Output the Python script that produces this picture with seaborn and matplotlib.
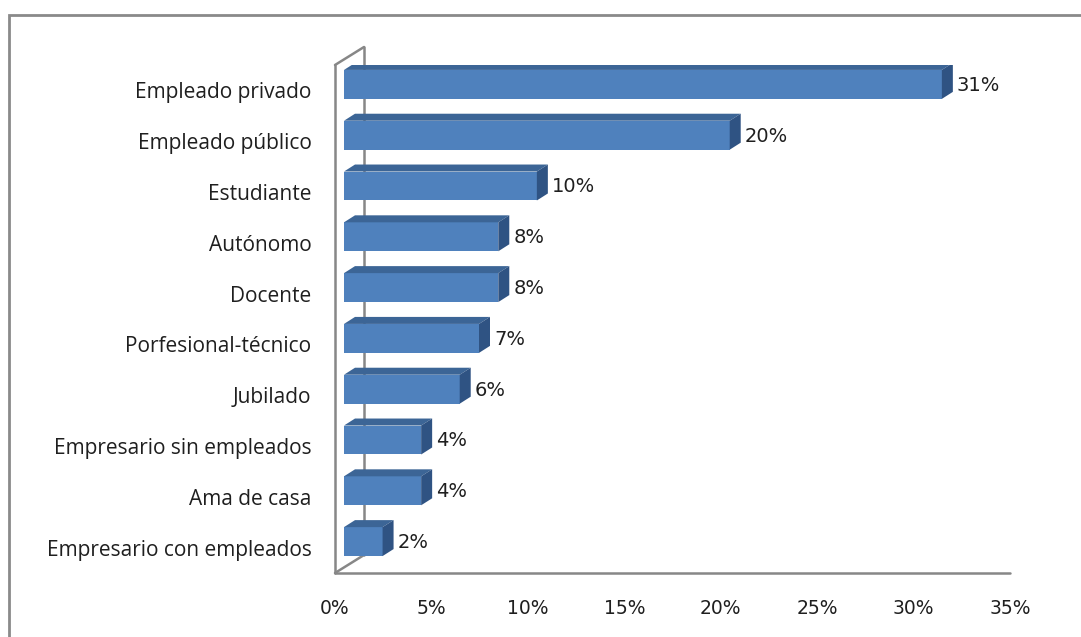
import numpy as np
import pandas as pd
import seaborn as sns
import matplotlib.pyplot as plt
from matplotlib.patches import Polygon, Rectangle
from matplotlib.transforms import ScaledTranslation

# data
categorias = ['Empleado privado', 'Empleado público', 'Estudiante', 'Autónomo',
              'Docente', 'Porfesional-técnico', 'Jubilado',
              'Empresario sin empleados', 'Ama de casa', 'Empresario con empleados']
porcentajes = [31, 20, 10, 8, 8, 7, 6, 4, 4, 2]
ticks_x = [0, 5, 10, 15, 20, 25, 30, 35]

df = pd.DataFrame({'cat': categorias, 'pct': porcentajes})

sns.set_style('white')
plt.rcParams['font.family'] = ['Open Sans', 'DejaVu Sans']

front = '#4f81bd'
top_c = '#3c6596'
side_c = '#2f5383'
grid_c = '#878787'
txt = '#1f1f1f'

dpi = 100
fig = plt.figure(figsize=(10.81, 6.37), dpi=dpi)
ax = fig.add_axes([335 / 1081, 64 / 637, 675 / 1081, 508 / 637])

sns.barplot(data=df, y='cat', x='pct', orient='h', color=front, width=0.57,
            saturation=1, ax=ax, edgecolor='none', zorder=3)
ax.set_xlim(0, 35)
ax.set_ylim(9.5, -0.5)

# pixel sizes -> data units
px_x = 675 / 35.0
px_y = 508 / 10.0
depth_dx, depth_dy = 29, 18      # floor depth (px)
shift_dx, shift_dy = 9, 6        # bars sit inside the depth
bar_dx, bar_dy = 11, 7           # bar thickness (px)

def off(dx, dy):
    return ax.transData + ScaledTranslation(dx / dpi, dy / dpi, fig.dpi_scale_trans)

bar_tr = off(shift_dx, shift_dy)
for p in ax.patches:
    p.set_transform(bar_tr)
    x0, y0 = p.get_x(), p.get_y()
    w, h = p.get_width(), p.get_height()
    ytop = y0          # inverted y: smaller value is up
    ybot = y0 + h
    ddx = bar_dx / px_x
    ddy = bar_dy / px_y
    topf = Polygon([(x0, ytop), (x0 + w, ytop), (x0 + w + ddx, ytop - ddy), (x0 + ddx, ytop - ddy)],
                   closed=True, facecolor=top_c, edgecolor='none', transform=bar_tr, zorder=3)
    sidef = Polygon([(x0 + w, ytop), (x0 + w + ddx, ytop - ddy), (x0 + w + ddx, ybot - ddy), (x0 + w, ybot)],
                    closed=True, facecolor=side_c, edgecolor='none', transform=bar_tr, zorder=3)
    ax.add_patch(topf)
    ax.add_patch(sidef)

# value labels
for i, v in enumerate(porcentajes):
    ax.text(v, i, f'{v}%', transform=off(shift_dx + bar_dx + 4, shift_dy - 1),
            ha='left', va='center', fontsize=14, color=txt,
            family=['DejaVu Sans'], zorder=4)

# 3D frame
for s in ax.spines.values():
    s.set_visible(False)
lw = 1.8
ax.plot([0, 35], [9.5, 9.5], color=grid_c, lw=lw, clip_on=False, zorder=2)
ax.plot([0, 0], [9.5, -0.5], color=grid_c, lw=lw, clip_on=False, zorder=2)
back = off(depth_dx, depth_dy)
ax.plot([0, 0], [9.5, -0.5], color=grid_c, lw=lw, clip_on=False, zorder=1, transform=back)
ddx_f = depth_dx / px_x
ddy_f = depth_dy / px_y
ax.plot([0, ddx_f], [9.5, 9.5 - ddy_f], color=grid_c, lw=lw, clip_on=False, zorder=2)
ax.plot([0, ddx_f], [-0.5, -0.5 - ddy_f], color=grid_c, lw=lw, clip_on=False, zorder=2)

ax.set_xticks(ticks_x)
ax.set_xticklabels([f'{t}%' for t in ticks_x], fontsize=13.5, color=txt, family=['DejaVu Sans'])
ax.tick_params(axis='x', length=0, pad=19)
ax.tick_params(axis='y', length=0, pad=17, labelsize=15, labelcolor=txt)
ax.set_xlabel('')
ax.set_ylabel('')

# outer chart border
fig.patches.append(Rectangle((9 / 1081, -0.01), 1.02, 622 / 637 + 0.01, transform=fig.transFigure,
                             fill=False, edgecolor='#8a8a8a', lw=2))

fig.savefig('out.png', dpi=dpi)
